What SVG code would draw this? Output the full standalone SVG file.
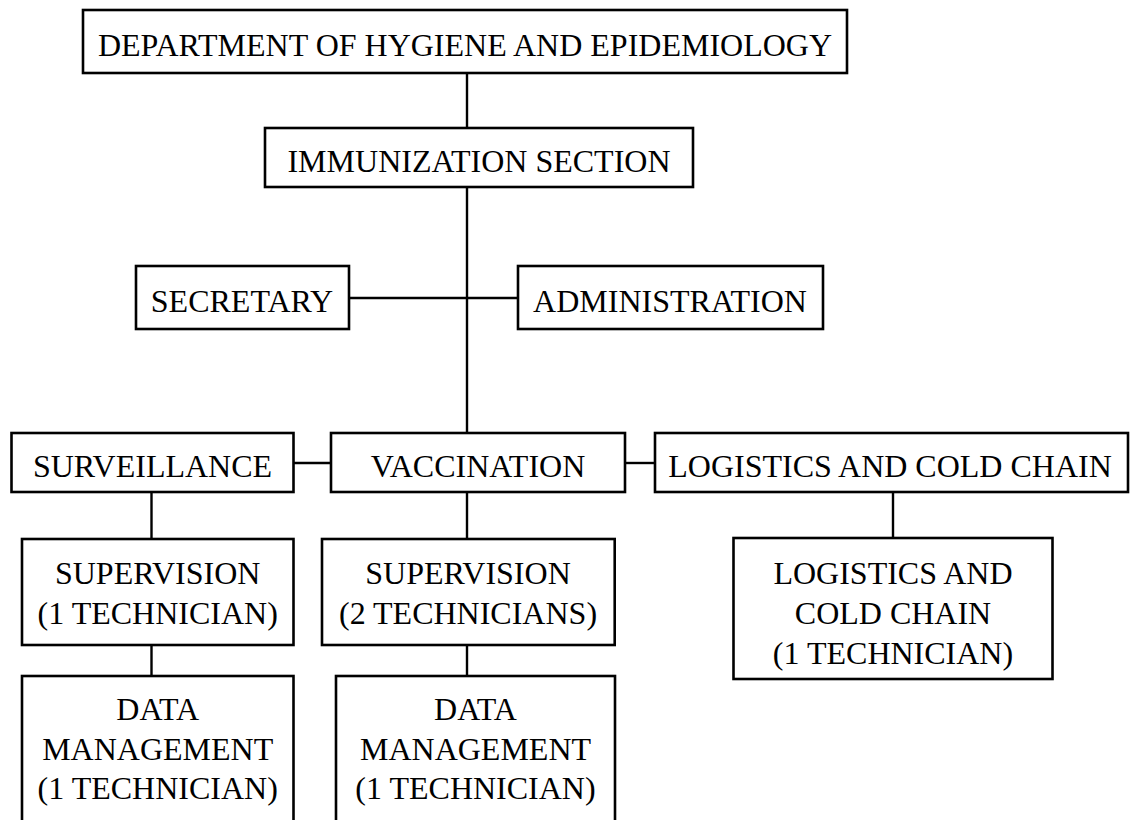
<svg xmlns="http://www.w3.org/2000/svg" width="1132" height="820" viewBox="0 0 1132 820">
<style>
.box{fill:#fff;stroke:#000;stroke-width:2.6}
.lbl{font-family:"Liberation Serif","Times New Roman",serif;font-size:32px;fill:#000;text-anchor:middle}
.conn line{stroke:#000;stroke-width:2.4}
</style>
<rect width="1132" height="820" fill="#fff"/>
<g class="conn" id="connectors">
<line x1="467" y1="73" x2="467" y2="128"/>
<line x1="467" y1="187" x2="467" y2="433"/>
<line x1="349" y1="298" x2="518" y2="298"/>
<line x1="293.5" y1="463" x2="331" y2="463"/>
<line x1="625" y1="463" x2="655" y2="463"/>
<line x1="151.5" y1="492" x2="151.5" y2="539"/>
<line x1="151.5" y1="645" x2="151.5" y2="676"/>
<line x1="467" y1="492" x2="467" y2="539"/>
<line x1="467" y1="645" x2="467" y2="676"/>
<line x1="893" y1="492" x2="893" y2="538"/>
</g>
<g id="dept"><rect class="box" x="83" y="10" width="764" height="63"/><text class="lbl" x="465" y="56">DEPARTMENT OF HYGIENE AND EPIDEMIOLOGY</text></g>
<g id="immunization"><rect class="box" x="265" y="128" width="428" height="59"/><text class="lbl" x="479" y="172">IMMUNIZATION SECTION</text></g>
<g id="secretary"><rect class="box" x="136" y="266" width="213" height="63"/><text class="lbl" x="242" y="312">SECRETARY</text></g>
<g id="administration"><rect class="box" x="518" y="266" width="305" height="63"/><text class="lbl" x="670" y="312">ADMINISTRATION</text></g>
<g id="surveillance"><rect class="box" x="11.5" y="433" width="282" height="59"/><text class="lbl" x="152.5" y="477">SURVEILLANCE</text></g>
<g id="vaccination"><rect class="box" x="331" y="433" width="294" height="59"/><text class="lbl" x="478" y="477">VACCINATION</text></g>
<g id="logistics"><rect class="box" x="655" y="433" width="473" height="59"/><text class="lbl" x="890" y="477">LOGISTICS AND COLD CHAIN</text></g>
<g id="supervision1"><rect class="box" x="22" y="539" width="271.5" height="106"/><text class="lbl" x="157.7" y="584">SUPERVISION</text><text class="lbl" x="157.7" y="623.5">(1 TECHNICIAN)</text></g>
<g id="supervision2"><rect class="box" x="322" y="539" width="292.7" height="106"/><text class="lbl" x="468" y="584">SUPERVISION</text><text class="lbl" x="468" y="623.5">(2 TECHNICIANS)</text></g>
<g id="logistics-tech"><rect class="box" x="733.5" y="538" width="319" height="141"/><text class="lbl" x="893" y="584">LOGISTICS AND</text><text class="lbl" x="893" y="624">COLD CHAIN</text><text class="lbl" x="893" y="664">(1 TECHNICIAN)</text></g>
<g id="data1"><rect class="box" x="22" y="676" width="271.5" height="160"/><text class="lbl" x="157.7" y="720">DATA</text><text class="lbl" x="157.7" y="759.5">MANAGEMENT</text><text class="lbl" x="157.7" y="799">(1 TECHNICIAN)</text></g>
<g id="data2"><rect class="box" x="336" y="676" width="279" height="160"/><text class="lbl" x="475.5" y="720">DATA</text><text class="lbl" x="475.5" y="759.5">MANAGEMENT</text><text class="lbl" x="475.5" y="799">(1 TECHNICIAN)</text></g>
</svg>
